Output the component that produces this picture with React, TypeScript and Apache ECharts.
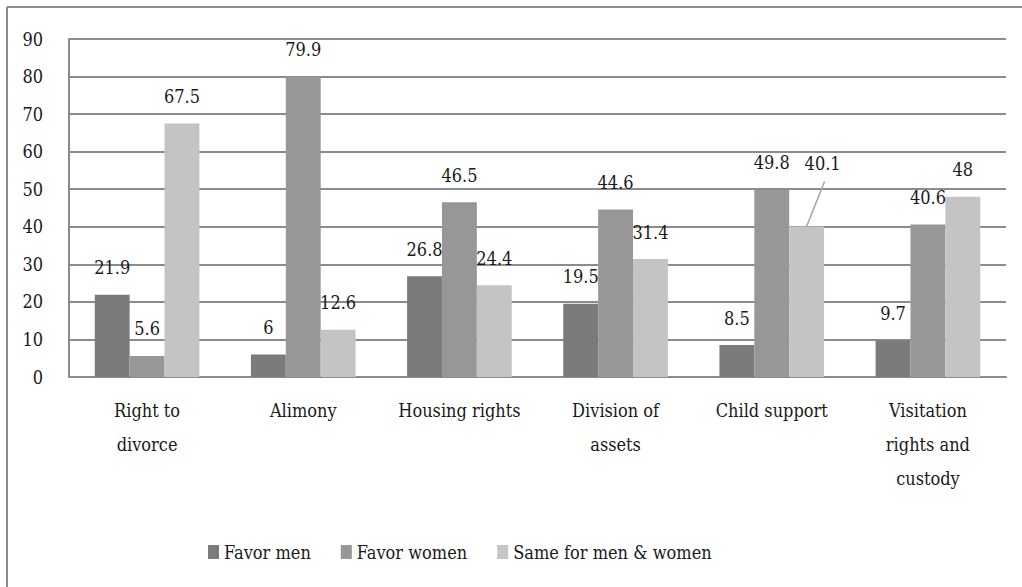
import React, { useEffect, useRef } from "react";
import * as echarts from "echarts";

const categories = [
  "Right to\ndivorce",
  "Alimony",
  "Housing rights",
  "Division of\nassets",
  "Child support",
  "Visitation\nrights and\ncustody",
];
const favorMen = [21.9, 6, 26.8, 19.5, 8.5, 9.7];
const favorWomen = [5.6, 79.9, 46.5, 44.6, 49.8, 40.6];
const sameForBoth = [67.5, 12.6, 24.4, 31.4, 40.1, 48];
const seriesNames = ["Favor men", "Favor women", "Same for men & women"];
const colors = ["#7b7b7b", "#979797", "#c4c4c4"];
const movedLabel = { series: 2, index: 4 };

const FONT = "DejaVu Serif Condensed, DejaVu Serif";

export default function App() {
  const ref = useRef<HTMLDivElement>(null);
  useEffect(() => {
    document.body.style.margin = "0";
    const chart = echarts.init(ref.current!, undefined, { renderer: "svg" });
    const labelStyle = {
      show: true,
      position: "top" as const,
      distance: 18,
      fontFamily: FONT,
      fontSize: 18,
      color: "#1a1a1a",
    };
    const mk = (name: string, data: number[], color: string, idx: number) => ({
      name,
      type: "bar",
      data,
      barGap: "0%",
      barCategoryGap: "33%",
      itemStyle: { color },
      label: labelStyle,
      labelLine: { show: false },
      labelLayout:
        idx === movedLabel.series
          ? (p: any) => (p.dataIndex === movedLabel.index ? { dx: 16, dy: -36 } : {})
          : undefined,
    });
    const leaderData = [[movedLabel.index, sameForBoth[movedLabel.index]]];
    chart.setOption({
      animation: false,
      backgroundColor: "#fff",
      textStyle: { fontFamily: FONT },
      grid: { left: 69, right: 16, top: 39, bottom: 210 },
      legend: {
        left: 203,
        top: 538,
        itemWidth: 11,
        itemHeight: 14,
        itemGap: 30,
        icon: "rect",
        textStyle: { fontFamily: FONT, fontSize: 18, color: "#1a1a1a" },
        data: seriesNames,
      },
      xAxis: {
        type: "category",
        data: categories,
        axisLine: { show: true, lineStyle: { color: "#8c8c8c", width: 2 } },
        axisTick: { show: false },
        axisLabel: {
          fontFamily: FONT,
          fontSize: 18,
          color: "#1a1a1a",
          lineHeight: 34,
          margin: 16,
          interval: 0,
        },
      },
      yAxis: {
        type: "value",
        min: 0,
        max: 90,
        interval: 10,
        axisLine: { show: true, lineStyle: { color: "#8c8c8c", width: 2 } },
        axisTick: { show: false },
        splitLine: { lineStyle: { color: "#8c8c8c", width: 2 } },
        axisLabel: { fontFamily: FONT, fontSize: 18, color: "#1a1a1a", margin: 26 },
      },
      graphic: [
        {
          type: "line",
          shape: { x1: 7, y1: 7, x2: 1022, y2: 7 },
          style: { stroke: "#8c8c8c", lineWidth: 2 },
        },
        {
          type: "line",
          shape: { x1: 7, y1: 7, x2: 7, y2: 587 },
          style: { stroke: "#8c8c8c", lineWidth: 2 },
        },
      ],
      series: [
        mk(seriesNames[0], favorMen, colors[0], 0),
        mk(seriesNames[1], favorWomen, colors[1], 1),
        mk(seriesNames[2], sameForBoth, colors[2], 2),
        {
          type: "custom",
          silent: true,
          data: leaderData,
          z: 5,
          renderItem: (params: any, api: any) => {
            const p = api.coord([api.value(0), api.value(1)]);
            const w = api.size([1, 0])[0];
            const x = p[0] + w * 0.67 / 3;
            return {
              type: "line",
              shape: { x1: x, y1: p[1], x2: x + 18, y2: p[1] - 45 },
              style: { stroke: "#a8a8a8", lineWidth: 1.5 },
            };
          },
        },
      ],
    });
    return () => chart.dispose();
  }, []);
  return <div ref={ref} style={{ width: 1022, height: 587 }} />;
}
